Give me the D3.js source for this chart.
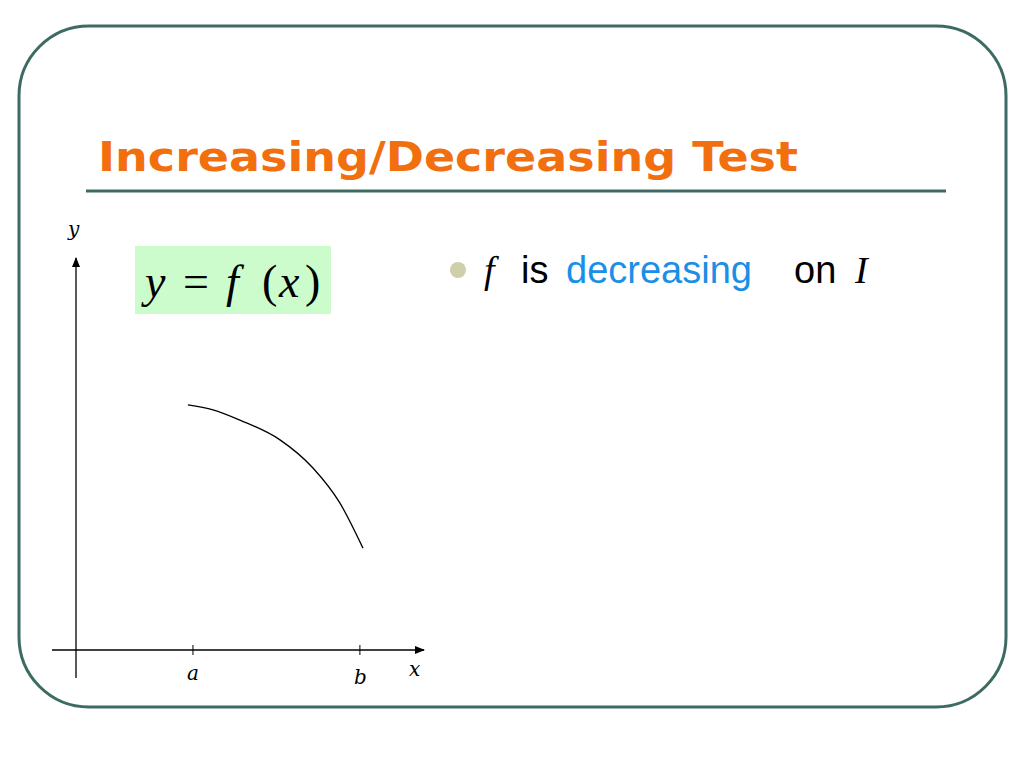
<!DOCTYPE html>
<meta charset="utf-8">
<title>Increasing/Decreasing Test</title>
<style>body{margin:0;background:#fff}</style>
<body>
<script src="https://cdnjs.cloudflare.com/ajax/libs/d3/7.8.5/d3.min.js"></script>
<script>
// curve points, in axis units (0..1)
var curveX = [0.329, 0.403, 0.482, 0.600, 0.697, 0.776, 0.844];
var curveY = [0.645, 0.632, 0.605, 0.553, 0.479, 0.387, 0.268];
var tickVals = [0.344, 0.835];
var tickLabels = ["a", "b"];

var svg = d3.select("body").append("svg").attr("width", 1024).attr("height", 768);

var x = d3.scaleLinear().domain([0, 1]).range([76, 416]);
var y = d3.scaleLinear().domain([0, 1]).range([650, 270]);
var serif = "Liberation Serif, Times New Roman";

// frame
svg.append("rect").attr("x", 19).attr("y", 26).attr("width", 987).attr("height", 681)
  .attr("rx", 70).attr("fill", "none").attr("stroke", "#3d6b63").attr("stroke-width", 3);
svg.append("text").attr("x", 98).attr("y", 171).text("Increasing/Decreasing Test")
  .attr("font-family", "DejaVu Sans, Arial").attr("font-weight", "bold")
  .attr("font-size", 40).attr("fill", "#f26f10")
  .attr("textLength", 700).attr("lengthAdjust", "spacingAndGlyphs");
svg.append("line").attr("x1", 86).attr("x2", 946).attr("y1", 191).attr("y2", 191)
  .attr("stroke", "#3d6b63").attr("stroke-width", 3);

// formula box
svg.append("rect").attr("x", 135).attr("y", 246).attr("width", 196).attr("height", 68).attr("fill", "#ccfccc");
var eq = [["y", 145, true], ["=", 183, false], ["f", 226, true], ["(", 262, false], ["x", 279, true], [")", 305, false]];
svg.selectAll(".eq").data(eq).enter().append("text")
  .attr("x", d => d[1]).attr("y", 297).text(d => d[0])
  .attr("font-family", serif).attr("font-size", 46)
  .attr("font-style", d => d[2] ? "italic" : "normal");

// bullet
svg.append("circle").attr("cx", 458).attr("cy", 270).attr("r", 8).attr("fill", "#cdd0a8");
var bl = [["f", 484, "#000", serif, "italic"], ["is", 521, "#000", null, "normal"],
  ["decreasing", 566, "#1a8fe6", null, "normal"], ["on", 794, "#000", null, "normal"],
  ["I", 855, "#000", serif, "italic"]];
svg.selectAll(".bl").data(bl).enter().append("text")
  .attr("x", d => d[1]).attr("y", 283).text(d => d[0]).attr("fill", d => d[2])
  .attr("font-family", d => d[3] || "Liberation Sans, Arial").attr("font-style", d => d[4])
  .attr("font-size", 38);

// arrow marker
svg.append("defs").append("marker").attr("id", "arr").attr("viewBox", "0 0 10 10")
  .attr("refX", 9).attr("refY", 5).attr("markerWidth", 10).attr("markerHeight", 10)
  .attr("markerUnits", "userSpaceOnUse").attr("orient", "auto")
  .append("path").attr("d", "M0,1 L10,5 L0,9 z").attr("fill", "#000");

// axes
svg.append("line").attr("x1", x(0)).attr("x2", x(0)).attr("y1", 678).attr("y2", 258)
  .attr("stroke", "#000").attr("stroke-width", 1.3).attr("marker-end", "url(#arr)");
svg.append("line").attr("x1", 52).attr("x2", 424).attr("y1", y(0)).attr("y2", y(0))
  .attr("stroke", "#000").attr("stroke-width", 1.3).attr("marker-end", "url(#arr)");
svg.selectAll(".tk").data(tickVals).enter().append("line")
  .attr("x1", d => x(d)).attr("x2", d => x(d)).attr("y1", y(0) - 5).attr("y2", y(0) + 5)
  .attr("stroke", "#000");
svg.selectAll(".tl").data(tickVals).enter().append("text")
  .attr("x", d => x(d) - 6).attr("y", (d, i) => i ? 684 : 680).text((d, i) => tickLabels[i])
  .attr("font-family", "DejaVu Serif").attr("font-style", "italic").attr("font-size", 20);
svg.append("text").attr("x", 409).attr("y", 676).text("x")
  .attr("font-family", "DejaVu Serif").attr("font-style", "italic").attr("font-size", 20);
svg.append("text").attr("x", 68).attr("y", 236).text("y")
  .attr("font-family", "DejaVu Serif").attr("font-style", "italic").attr("font-size", 20);

// curve
var pts = curveX.map((d, i) => [d, curveY[i]]);
svg.append("path").datum(pts)
  .attr("d", d3.line().x(d => x(d[0])).y(d => y(d[1])).curve(d3.curveMonotoneX))
  .attr("fill", "none").attr("stroke", "#000").attr("stroke-width", 1.3);
</script>
